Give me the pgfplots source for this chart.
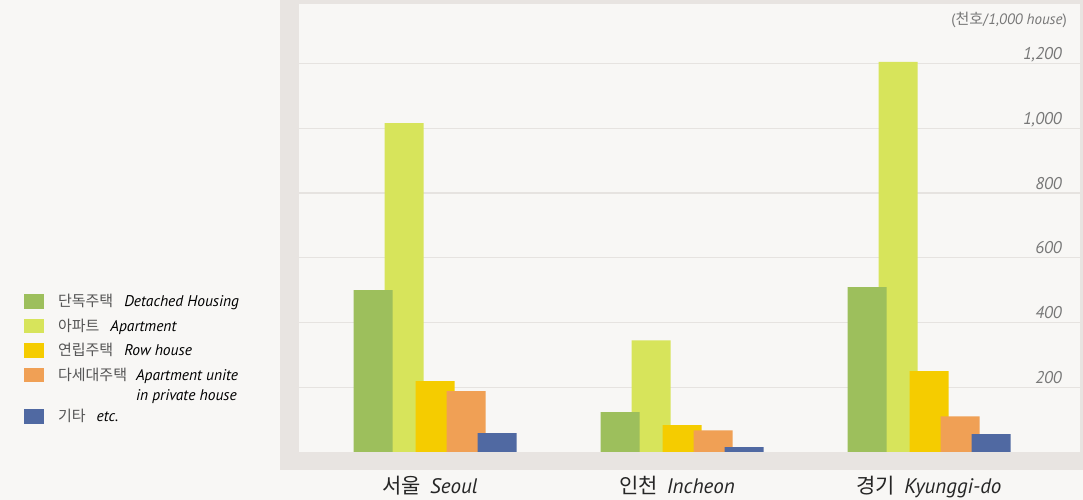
\documentclass[border=0pt]{standalone}
\usepackage{pgfplots}
\pgfplotsset{compat=1.18}
\usepackage{fontspec}
\setmainfont{PT Sans}
\newfontfamily\kr{Noto Sans CJK KR}
\definecolor{bgc}{HTML}{F8F7F5}
\definecolor{framec}{HTML}{E8E4E1}
\definecolor{gridc}{HTML}{E6E3E0}
\definecolor{c1}{HTML}{9DBF5C}
\definecolor{c2}{HTML}{D7E45B}
\definecolor{c3}{HTML}{F5CC00}
\definecolor{c4}{HTML}{F0A055}
\definecolor{c5}{HTML}{5069A2}
\definecolor{tickc}{HTML}{777777}
\definecolor{krc}{HTML}{555555}
\newcommand\rs[1]{\rule[-4bp]{0pt}{#1}}
\newcommand\lat[1]{{\fontsize{15.5bp}{18bp}\selectfont\itshape #1}}
\begin{document}
\begin{tikzpicture}[x=1bp,y=1bp]
\useasboundingbox (0,0) rectangle (1083,500);
\fill[bgc] (0,0) rectangle (1083,500);
\fill[framec] (280,30) rectangle (1083,500);
\fill[bgc] (299,48) rectangle (1080,496);
\begin{axis}[
  at={(299bp,48bp)}, anchor=south west,
  scale only axis, width=781bp, height=448bp,
  xmin=-0.5506, xmax=2.6113, ymin=0, ymax=1384,
  axis line style={draw=none},
  major tick length=0pt,
  ymajorgrids, grid style={gridc, line width=1.3bp},
  ytick={200,400,...,1200},
  yticklabel pos=right,
  /pgf/number format/.cd, 1000 sep={,}, assume math mode=true,
  /pgfplots/.cd,
  yticklabel style={anchor=base east, inner sep=0pt, xshift=-18bp, yshift=4bp,
    text=tickc, font=\fontsize{17bp}{20bp}\selectfont\itshape},
  xtick={0,1,2},
  xticklabels={{{\kr 서울}\hspace{9bp}\textit{Seoul}},{{\kr 인천}\hspace{9bp}\textit{Incheon}},{\hspace{10bp}{\kr 경기}\hspace{9bp}\textit{Kyunggi-do}}},
  xticklabel style={anchor=base, inner sep=0pt, yshift=-42bp, xshift=-5bp, text={black!85},
    font=\fontsize{21bp}{24bp}\selectfont},
  legend image code/.code={\fill[#1] (0bp,-2bp) rectangle (20bp,12.5bp);},
  legend style={at={(axis description cs:-0.352,0.3527)}, anchor=north west,
    draw=none, fill=none, inner sep=0pt, outer sep=0pt,
    font=\fontsize{15bp}{18bp}\selectfont, row sep=5bp, column sep=14bp,
    nodes={inner sep=0pt}, cells={anchor=base west}},
]
\addlegendimage{fill=c1, draw=none}
\addlegendimage{fill=c2, draw=none}
\addlegendimage{fill=c3, draw=none}
\addlegendimage{fill=c4, draw=none}
\addlegendimage{empty legend}
\addlegendimage{fill=c5, draw=none}
\addplot[ybar, bar width=39bp, bar shift=-31bp, fill=c2, draw=none, forget plot]
  coordinates {(0,1016) (1,345) (2,1205)};
\addplot[ybar, bar width=39bp, bar shift=-62bp, fill=c1, draw=none, forget plot]
  coordinates {(0,500) (1,123) (2,509)};
\addplot[ybar, bar width=39bp, bar shift=0bp, fill=c3, draw=none, forget plot]
  coordinates {(0,219) (1,83) (2,250)};
\addplot[ybar, bar width=39bp, bar shift=31bp, fill=c4, draw=none, forget plot]
  coordinates {(0,188) (1,67) (2,110)};
\addplot[ybar, bar width=39bp, bar shift=62bp, fill=c5, draw=none, forget plot]
  coordinates {(0,58) (1,15) (2,55)};
\legend{
  {\rs{17bp}{\color{krc}\kr 단독주택}\hspace{11bp}\lat{Detached Housing}},
  {\rs{21.5bp}{\color{krc}\kr 아파트}\hspace{11bp}\lat{Apartment}},
  {\rs{21.5bp}{\color{krc}\kr 연립주택}\hspace{11bp}\lat{Row house}},
  {\rs{21.5bp}{\color{krc}\kr 다세대주택}\hspace{9bp}\lat{Apartment unite}},
  {\rs{17bp}\phantom{\kr 다세대주택}\hspace{9bp}\lat{in private house}},
  {\rs{19bp}{\color{krc}\kr 기타}\hspace{11bp}\lat{etc.}}
}
\end{axis}
\node[anchor=east, inner sep=0pt, text=tickc, font=\fontsize{15bp}{17bp}\selectfont] at (1067,480)
  {({\kr 천호}/\textit{1,000 house})};
\end{tikzpicture}
\end{document}
